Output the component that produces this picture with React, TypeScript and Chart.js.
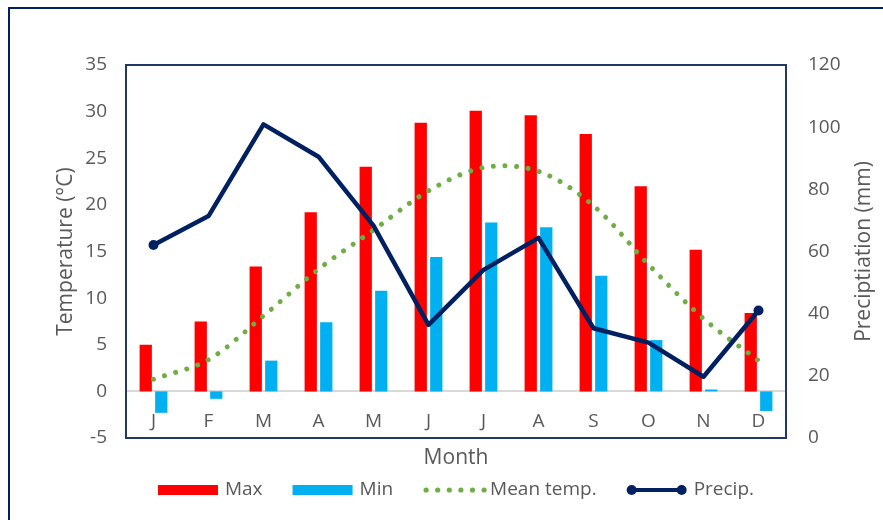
import React, { useEffect, useRef } from "react";
import { Chart, registerables } from "chart.js";

Chart.register(...registerables);

// ---- data ----
const months = ["J", "F", "M", "A", "M", "J", "J", "A", "S", "O", "N", "D"];
const maxTemp = [5.0, 7.5, 13.4, 19.2, 24.1, 28.8, 30.1, 29.6, 27.6, 22.0, 15.2, 8.4];
const minTemp = [-2.3, -0.8, 3.3, 7.4, 10.8, 14.4, 18.1, 17.6, 12.4, 5.5, 0.2, -2.1];
const meanTemp = [1.3, 3.4, 8.1, 13.1, 17.3, 21.5, 24.0, 23.6, 19.9, 13.6, 7.8, 3.3];
const precip = [62.1, 71.4, 100.9, 90.5, 68.3, 36.4, 54.1, 64.4, 35.3, 30.7, 19.7, 41.0];
const tempTicks = [-5, 0, 5, 10, 15, 20, 25, 30, 35];
const precipTicks = [0, 20, 40, 60, 80, 100, 120];
const seriesNames = ["Max", "Min", "Mean temp.", "Precip."];
const xTitle = "Month";
const yTitle = "Temperature (°C)";
const y1Title = "Preciptiation (mm)";

// ---- style ----
const FONT = "'Open Sans', sans-serif";
const TEXT = "#595959";
const RED = "#FF0000";
const BLUE = "#00B0F0";
const GREEN = "#70AD47";
const NAVY = "#002060";

const decor = {
  id: "decor",
  afterDraw(chart: any) {
    const { ctx, chartArea: a } = chart;
    ctx.save();
    // plot border
    ctx.strokeStyle = "#203864";
    ctx.lineWidth = 2;
    ctx.strokeRect(a.left, a.top, a.right - a.left, a.bottom - a.top);

    // axis titles
    const cx = (a.left + a.right) / 2;
    const cy = (a.top + a.bottom) / 2;
    ctx.fillStyle = TEXT;
    ctx.font = `21px ${FONT}`;
    ctx.textAlign = "center";
    ctx.textBaseline = "middle";
    ctx.fillText(xTitle, cx, 458);
    ctx.save();
    ctx.translate(66, cy);
    ctx.rotate(-Math.PI / 2);
    ctx.fillText(yTitle, 0, 0);
    ctx.restore();
    ctx.save();
    ctx.translate(864, cy);
    ctx.rotate(-Math.PI / 2);
    ctx.fillText(y1Title, 0, 0);
    ctx.restore();

    // legend
    const ly = 490;
    const iconW = 60;
    const textGap = 7;
    const itemGap = 30;
    ctx.font = `19px ${FONT}`;
    ctx.textAlign = "left";
    const widths = seriesNames.map((s) => ctx.measureText(s).width);
    const total =
      widths.reduce((p, w) => p + w, 0) + seriesNames.length * (iconW + textGap) + (seriesNames.length - 1) * itemGap;
    let x = cx - total / 2;
    seriesNames.forEach((name, i) => {
      if (i === 0 || i === 1) {
        ctx.fillStyle = i === 0 ? RED : BLUE;
        ctx.fillRect(x, ly - 5, iconW, 10);
      } else if (i === 2) {
        ctx.fillStyle = GREEN;
        for (let k = 0; k < 6; k++) {
          ctx.beginPath();
          ctx.arc(x + 3 + k * 11.6, ly, 2.6, 0, Math.PI * 2);
          ctx.fill();
        }
      } else {
        ctx.strokeStyle = NAVY;
        ctx.lineWidth = 4;
        ctx.beginPath();
        ctx.moveTo(x + 5, ly);
        ctx.lineTo(x + iconW - 5, ly);
        ctx.stroke();
        ctx.fillStyle = NAVY;
        [x + 5, x + iconW - 5].forEach((px) => {
          ctx.beginPath();
          ctx.arc(px, ly, 5, 0, Math.PI * 2);
          ctx.fill();
        });
      }
      x += iconW + textGap;
      ctx.fillStyle = TEXT;
      ctx.fillText(name, x, ly);
      x += widths[i] + itemGap;
    });
    ctx.restore();
  },
};

export default function App() {
  const ref = useRef<HTMLCanvasElement | null>(null);

  useEffect(() => {
    document.body.style.margin = "0";
    if (!ref.current) return;
    const last = precip.length - 1;
    const tickFont = { family: FONT, size: 19 };
    const chart = new Chart(ref.current, {
      type: "bar",
      data: {
        labels: months,
        datasets: [
          {
            type: "bar",
            label: seriesNames[0],
            data: maxTemp,
            backgroundColor: RED,
            yAxisID: "y",
            barPercentage: 0.79,
            categoryPercentage: 0.565,
            order: 2,
          },
          {
            type: "bar",
            label: seriesNames[1],
            data: minTemp,
            backgroundColor: BLUE,
            yAxisID: "y",
            barPercentage: 0.79,
            categoryPercentage: 0.565,
            order: 2,
          },
          {
            type: "line",
            label: seriesNames[2],
            data: meanTemp,
            borderColor: GREEN,
            backgroundColor: GREEN,
            borderWidth: 5,
            borderDash: [0.001, 11.6],
            borderCapStyle: "round",
            tension: 0.33,
            pointRadius: 0,
            fill: false,
            yAxisID: "y",
            order: 1,
          },
          {
            type: "line",
            label: seriesNames[3],
            data: precip,
            borderColor: NAVY,
            backgroundColor: NAVY,
            borderWidth: 4.5,
            borderJoinStyle: "round",
            borderCapStyle: "round",
            tension: 0,
            pointRadius: (c: any) => (c.dataIndex === 0 || c.dataIndex === last ? 5 : 0),
            pointBorderWidth: 0,
            pointBackgroundColor: NAVY,
            fill: false,
            yAxisID: "y1",
            order: 0,
          },
        ] as any,
      },
      options: {
        responsive: false,
        animation: false,
        layout: { padding: { top: 65, bottom: 82, left: 0, right: 0 } },
        plugins: {
          legend: { display: false },
          tooltip: { enabled: false },
          title: { display: false },
        },
        scales: {
          x: {
            type: "category",
            position: { y: 0 } as any,
            offset: true,
            grid: { display: false, drawTicks: false },
            border: { display: true, color: "#D9D9D9", width: 2 },
            ticks: { color: TEXT, font: tickFont, padding: 19, maxRotation: 0, autoSkip: false },
            afterFit(s: any) {
              s.paddingLeft = 0;
              s.paddingRight = 0;
            },
          },
          y: {
            type: "linear",
            position: "left",
            min: tempTicks[0],
            max: tempTicks[tempTicks.length - 1],
            grid: { display: false, drawTicks: false },
            border: { display: false },
            ticks: { color: TEXT, font: tickFont, padding: 19 },
            afterBuildTicks(s: any) {
              s.ticks = tempTicks.map((v) => ({ value: v }));
            },
            afterFit(s: any) {
              s.width = 126;
              s.paddingTop = 0;
              s.paddingBottom = 0;
            },
          },
          y1: {
            type: "linear",
            position: "right",
            min: precipTicks[0],
            max: precipTicks[precipTicks.length - 1],
            grid: { display: false, drawTicks: false },
            border: { display: false },
            ticks: { color: TEXT, font: tickFont, padding: 22 },
            afterBuildTicks(s: any) {
              s.ticks = precipTicks.map((v) => ({ value: v }));
            },
            afterFit(s: any) {
              s.width = 97;
              s.paddingTop = 0;
              s.paddingBottom = 0;
            },
          },
        } as any,
      },
      plugins: [decor],
    });
    return () => chart.destroy();
  }, []);

  return (
    <div style={{ position: "relative", width: 883, height: 520, overflow: "hidden", background: "#fff" }}>
      <div
        style={{
          position: "absolute",
          left: 8,
          top: 7,
          width: 1000,
          height: 1000,
          border: `2px solid ${NAVY}`,
          boxSizing: "border-box",
        }}
      />
      <canvas ref={ref} width={883} height={520} style={{ position: "absolute", left: 0, top: 0, display: "block" }} />
    </div>
  );
}
